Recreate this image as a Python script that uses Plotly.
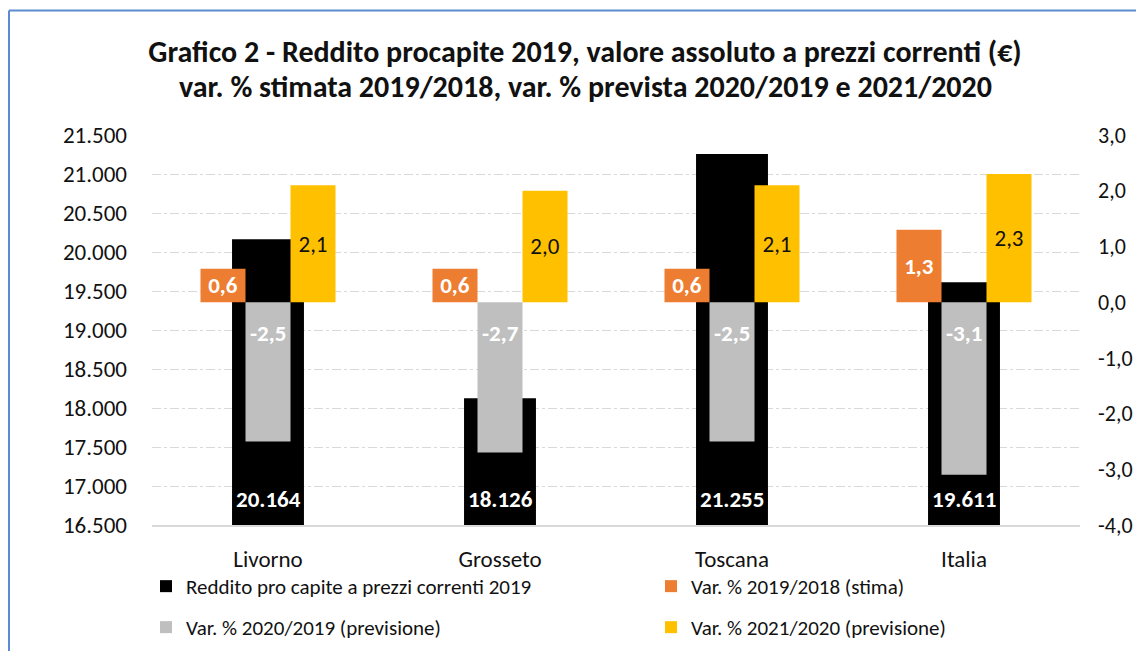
import plotly.graph_objects as go

categories = ["Livorno", "Grosseto", "Toscana", "Italia"]
reddito_2019 = [20164, 18126, 21255, 19611]
var_2019_2018 = [0.6, 0.6, 0.6, 1.3]
var_2020_2019 = [-2.5, -2.7, -2.5, -3.1]
var_2021_2020 = [2.1, 2.0, 2.1, 2.3]
pct_ticks = [-4, -3, -2, -1, 0, 1, 2, 3]

names = [
    "Reddito pro capite a prezzi correnti 2019",
    "Var. % 2019/2018 (stima)",
    "Var. % 2020/2019 (previsione)",
    "Var. % 2021/2020 (previsione)",
]
title_line1 = "Grafico 2 - Reddito procapite 2019, valore assoluto a prezzi correnti (€)"
title_line2 = "var. % stimata 2019/2018, var. % prevista 2020/2019 e 2021/2020"

FONT = "Carlito, Lato, 'Open Sans', sans-serif"
TXT = "#111111"
BLACK, ORANGE, GRAY, YELLOW = "#000000", "#ED7D31", "#BFBFBF", "#FFC000"

W_BIG = 0.31
W_SMALL = 0.194
LBL = 23


def it_num(v, dec):
    s = f"{v:,.{dec}f}"
    return s.replace(",", "X").replace(".", ",").replace("X", ".")


fig = go.Figure()

fig.add_trace(go.Bar(
    x=categories, y=[v - 16500 for v in reddito_2019], base=16500,
    name=names[0], marker=dict(color=BLACK, line=dict(width=0)),
    width=W_BIG, offset=-W_BIG / 2, yaxis="y", legend="legend",
    hoverinfo="skip",
))
fig.add_trace(go.Bar(
    x=categories, y=var_2019_2018, name=names[1],
    marker=dict(color=ORANGE, line=dict(width=0)),
    width=W_SMALL, offset=-1.5 * W_SMALL, yaxis="y2", legend="legend",
    texttemplate="%{y:.1f}", textposition="inside", insidetextanchor="middle",
    constraintext="none",
    textfont=dict(family=FONT, size=LBL, color="white", weight="bold"),
))
fig.add_trace(go.Bar(
    x=categories, y=var_2020_2019, name=names[2],
    marker=dict(color=GRAY, line=dict(width=0)),
    width=W_SMALL, offset=-0.5 * W_SMALL, yaxis="y2", legend="legend2",
))
fig.add_trace(go.Bar(
    x=categories, y=var_2021_2020, name=names[3],
    marker=dict(color=YELLOW, line=dict(width=0)),
    width=W_SMALL, offset=0.5 * W_SMALL, yaxis="y2", legend="legend2",
    texttemplate="%{y:.1f}", textposition="inside", insidetextanchor="middle",
    constraintext="none",
    textfont=dict(family=FONT, size=LBL, color=TXT),
))

# figure sits at the page's 8px body margin
OFF = 8
FW, FH = 1144 - OFF, 643
L, R, T, B = 144, FW - 1072, 127, FH - 517
PW, PH = FW - L - R, FH - T - B


def px_x(px):  # page pixel -> paper
    return (px - OFF - L) / PW


def px_y(py):
    return (FH - B - (py - OFF)) / PH


annotations = []
for c, v in zip(categories, reddito_2019):
    annotations.append(dict(
        x=c, y=16500, xref="x", yref="y", yanchor="middle", yshift=26,
        text=it_num(v, 0), showarrow=False,
        font=dict(family=FONT, size=LBL, color="white", weight="bold"),
    ))
for c, v in zip(categories, var_2020_2019):
    annotations.append(dict(
        x=c, y=0, xref="x", yref="y2", yanchor="middle", yshift=-31,
        text=it_num(v, 1), showarrow=False,
        font=dict(family=FONT, size=LBL, color="white", weight="bold"),
    ))
annotations.append(dict(
    x=px_x(585), y=px_y(86), xref="paper", yref="paper",
    xanchor="center", yanchor="middle", text=title_line2, showarrow=False,
    font=dict(family=FONT, size=30, color=TXT, weight="bold"),
))

border = "#5B8BD0"
shapes = [
    dict(type="line", xref="paper", yref="paper", x0=px_x(9), x1=px_x(9),
         y0=px_y(700), y1=px_y(10.5), line=dict(color=border, width=2)),
    dict(type="line", xref="paper", yref="paper", x0=px_x(9), x1=px_x(1200),
         y0=px_y(10.5), y1=px_y(10.5), line=dict(color=border, width=2)),
]

fig.update_layout(
    width=FW, height=FH,
    margin=dict(l=L, r=R, t=T, b=B, autoexpand=False),
    paper_bgcolor="white", plot_bgcolor="white",
    separators=",.",
    barmode="overlay",
    font=dict(family=FONT, size=21, color=TXT),
    title=dict(
        text=title_line1,
        x=(585 - OFF) / FW, xanchor="center", xref="container",
        y=1 - (51 - OFF) / FH, yanchor="middle", yref="container",
        font=dict(family=FONT, size=30, color=TXT, weight="bold"),
    ),
    xaxis=dict(
        type="category", categoryorder="array", categoryarray=categories,
        range=[-0.5, 3.5], showgrid=False, showline=True, linecolor="#d9d9d9",
        linewidth=1.5, ticks="", ticklabelstandoff=13,
        tickfont=dict(family=FONT, size=23, color=TXT),
    ),
    yaxis=dict(
        range=[16500, 21500], tickvals=list(range(16500, 22000, 500)),
        tickformat=",.0f", showgrid=True, gridcolor="#d9d9d9", griddash="dashdot",
        gridwidth=1, zeroline=False, showline=False, ticks="",
        ticklabelstandoff=24, tickfont=dict(family=FONT, size=23, color=TXT),
    ),
    yaxis2=dict(
        range=[-4, 3], tickvals=pct_ticks,
        ticktext=[it_num(v, 1) for v in pct_ticks],
        overlaying="y", side="right", showgrid=False, zeroline=False,
        showline=False, ticks="", ticklabelstandoff=17,
        tickfont=dict(family=FONT, size=22, color=TXT),
    ),
    legend=dict(
        orientation="h", x=px_x(146), xanchor="left", y=px_y(566), yanchor="top",
        entrywidth=460, entrywidthmode="pixels", traceorder="normal",
        font=dict(family=FONT, size=21, color=TXT), bgcolor="rgba(0,0,0,0)",
    ),
    legend2=dict(
        orientation="h", x=px_x(146), xanchor="left", y=px_y(607), yanchor="top",
        entrywidth=460, entrywidthmode="pixels", traceorder="normal",
        font=dict(family=FONT, size=21, color=TXT), bgcolor="rgba(0,0,0,0)",
    ),
    annotations=annotations,
    shapes=shapes,
    showlegend=True,
)

fig.write_html("out.html")
